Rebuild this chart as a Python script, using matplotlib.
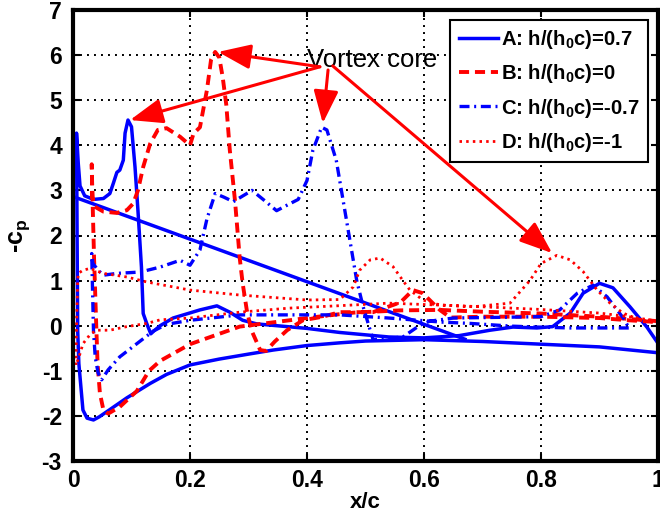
import numpy as np
import matplotlib
matplotlib.use("Agg")
import matplotlib.pyplot as plt

plt.rcParams['font.family'] = ['Liberation Sans', 'DejaVu Sans']
plt.rcParams['mathtext.fontset'] = 'custom'
plt.rcParams['mathtext.rm'] = 'Liberation Sans:bold'
plt.rcParams['mathtext.bf'] = 'Liberation Sans:bold'
plt.rcParams['mathtext.it'] = 'Liberation Sans:bold'
plt.rcParams['mathtext.default'] = 'bf'
plt.rcParams['axes.unicode_minus'] = False

# ---------------- data ----------------
labels = ['A: h/(h$_0$c)=0.7', 'B: h/(h$_0$c)=0', 'C: h/(h$_0$c)=-0.7', 'D: h/(h$_0$c)=-1']

# A: lower surface (TE -> LE), upper surface (LE -> TE), straight closing line
xA_low = [1.0, 0.9, 0.8, 0.7, 0.6, 0.5, 0.456, 0.4, 0.342, 0.3, 0.25, 0.2, 0.16, 0.132, 0.092,
          0.063, 0.045, 0.035, 0.024, 0.017, 0.014, 0.01, 0.008, 0.007, 0.006]
yA_low = [-0.6, -0.47, -0.41, -0.35, -0.31, -0.34, -0.38, -0.44, -0.54, -0.63, -0.74, -0.87, -1.08,
          -1.28, -1.6, -1.86, -2.02, -2.09, -2.05, -1.87, -1.43, -0.84, -0.1, 2.0, 4.27]
xA_up = [0.006, 0.009, 0.012, 0.02, 0.035, 0.052, 0.063, 0.069, 0.075, 0.08, 0.086, 0.089, 0.094,
         0.1, 0.106, 0.111, 0.117, 0.12, 0.126, 0.133, 0.138, 0.149, 0.171, 0.217, 0.246, 0.268,
         0.29, 0.314, 0.4, 0.456, 0.54, 0.6, 0.66, 0.713, 0.752, 0.793, 0.82, 0.85, 0.872, 0.9,
         0.923, 0.952, 0.981, 1.0]
yA_up = [4.27, 3.6, 3.1, 2.88, 2.8, 2.82, 2.93, 3.16, 3.4, 3.45, 3.67, 4.27, 4.56, 4.41, 3.52,
         2.56, 1.3, 0.27, 0.05, -0.18, -0.12, 0.0, 0.17, 0.35, 0.44, 0.3, 0.12, 0.04, -0.06,
         -0.15, -0.25, -0.27, -0.22, -0.1, -0.03, -0.05, -0.02, 0.28, 0.72, 0.94, 0.84, 0.42,
         -0.03, -0.39]
xA_diag = [0.003, 0.67]
yA_diag = [2.85, -0.3]

# B
xB_low = [1.0, 0.9, 0.8, 0.7, 0.627, 0.56, 0.48, 0.445, 0.4, 0.37, 0.285, 0.274, 0.2, 0.149,
          0.13, 0.109, 0.08, 0.06, 0.052, 0.046, 0.042, 0.04, 0.036, 0.033, 0.032]
yB_low = [0.1, 0.2, 0.27, 0.31, 0.35, 0.34, 0.29, 0.24, 0.17, 0.12, -0.02, -0.07, -0.41, -0.78,
          -1.0, -1.45, -1.8, -1.95, -1.87, -1.5, -0.84, -0.1, 1.5, 3.0, 3.58]
xB_up = [0.032, 0.033, 0.037, 0.052, 0.075, 0.092, 0.103, 0.111, 0.12, 0.132, 0.145, 0.16, 0.183,
         0.2, 0.206, 0.217, 0.229, 0.236, 0.243, 0.25, 0.256, 0.262, 0.268, 0.277, 0.285, 0.29,
         0.297, 0.305, 0.32, 0.33, 0.345, 0.366, 0.393, 0.427, 0.456, 0.513, 0.56, 0.581, 0.598,
         0.615, 0.627, 0.645, 0.7, 0.8, 0.9, 0.95, 1.0]
yB_up = [3.58, 2.85, 2.64, 2.53, 2.5, 2.56, 2.71, 3.0, 3.52, 4.04, 4.34, 4.38, 4.19, 4.0, 4.26,
         4.4, 5.23, 5.9, 6.07, 5.95, 5.5, 4.9, 3.9, 2.76, 1.5, 0.94, 0.35, -0.1, -0.54, -0.56,
         -0.35, -0.1, 0.12, 0.2, 0.3, 0.3, 0.52, 0.79, 0.72, 0.5, 0.35, 0.18, 0.2, 0.2, 0.17,
         0.12, 0.08]

# C
xC_low = [0.95, 0.9, 0.85, 0.793, 0.75, 0.68, 0.63, 0.54, 0.456, 0.4, 0.285, 0.2, 0.16, 0.137,
          0.109, 0.08, 0.06, 0.049, 0.043, 0.038, 0.035, 0.033, 0.032]
yC_low = [-0.05, -0.05, -0.05, -0.03, -0.01, 0.05, 0.08, 0.17, 0.24, 0.24, 0.24, 0.12, 0.03,
          -0.12, -0.4, -0.69, -0.98, -1.2, -1.05, -0.7, -0.1, 1.0, 1.6]
xC_up = [0.032, 0.034, 0.043, 0.052, 0.075, 0.115, 0.149, 0.183, 0.2, 0.217, 0.229, 0.243, 0.258,
         0.274, 0.306, 0.325, 0.348, 0.37, 0.385, 0.4, 0.41, 0.425, 0.434, 0.45, 0.468, 0.485,
         0.496, 0.508, 0.513, 0.564, 0.593, 0.61, 0.65, 0.7, 0.8, 0.832, 0.862, 0.889, 0.913,
         0.93, 0.943, 0.95]
yC_up = [1.6, 1.38, 1.23, 1.12, 1.16, 1.19, 1.3, 1.45, 1.34, 1.68, 2.37, 2.93, 2.85, 2.75, 3.0,
         2.8, 2.55, 2.7, 2.8, 3.22, 3.89, 4.4, 4.34, 3.67, 2.3, 1.0, 0.42, -0.1, -0.31, -0.25,
         0.01, 0.1, 0.17, 0.18, 0.2, 0.35, 0.72, 0.9, 0.64, 0.35, 0.13, -0.05]

# D
xD_low = [1.0, 0.95, 0.9, 0.8, 0.7, 0.6, 0.54, 0.45, 0.37, 0.285, 0.2, 0.149, 0.126, 0.092, 0.063,
          0.04, 0.029, 0.017, 0.012, 0.005, 0.006, 0.008, 0.009]
yD_low = [0.1, 0.2, 0.28, 0.36, 0.42, 0.47, 0.5, 0.44, 0.39, 0.3, 0.17, 0.13, 0.05, -0.02, -0.1,
          -0.1, -0.2, -0.4, -0.62, -0.88, 0.0, 1.0, 1.16]
xD_up = [0.009, 0.017, 0.029, 0.052, 0.092, 0.126, 0.2, 0.285, 0.4, 0.456, 0.479, 0.49, 0.508,
         0.525, 0.547, 0.564, 0.576, 0.598, 0.627, 0.684, 0.747, 0.781, 0.8, 0.827, 0.85, 0.872,
         0.896, 0.918, 0.94, 0.969, 1.0]
yD_up = [1.16, 1.23, 1.27, 1.16, 1.08, 0.97, 0.79, 0.68, 0.57, 0.58, 0.86, 1.23, 1.46, 1.5, 1.31,
         1.0, 0.79, 0.57, 0.46, 0.42, 0.5, 1.0, 1.38, 1.56, 1.46, 1.2, 0.79, 0.5, 0.28, 0.13, 0.06]

# annotation: "Vortex core" text and arrow (tail, head) points
note_text = 'Vortex core'
note_xy = (0.40, 5.74)
arrow_tails = [(0.422, 5.74), (0.422, 5.74), (0.436, 5.67), (0.444, 5.76)]
arrow_heads = [(0.248, 6.07), (0.0975, 4.56), (0.427, 4.49), (0.819, 1.61)]

xticks = [0, 0.2, 0.4, 0.6, 0.8, 1]
xticklabels = ['0', '0.2', '0.4', '0.6', '0.8', '1']
yticks = [-3, -2, -1, 0, 1, 2, 3, 4, 5, 6, 7]

# ---------------- figure ----------------
fig = plt.figure(figsize=(6.6, 5.12), dpi=100)
ax = fig.add_axes([73/660, 1-461/512, 585/660, 451/512])

blue = (0, 0, 1)
red = (1, 0, 0)
stA = dict(color=blue, lw=2.5, linestyle='-', solid_joinstyle='round')
stB = dict(color=red, lw=2.8, linestyle=(0, (2.6, 1.5)))
stC = dict(color=blue, lw=2.4, linestyle=(0, (3.0, 1.4, 0.6, 1.4)))
stD = dict(color=red, lw=2.0, linestyle=(0, (0.9, 1.5)))

lA, = ax.plot(xA_low + xA_up[1:], yA_low + yA_up[1:], **stA)
ax.plot(xA_diag, yA_diag, **stA)
lB, = ax.plot(xB_low + xB_up[1:], yB_low + yB_up[1:], **stB)
lC, = ax.plot(xC_low + xC_up[1:], yC_low + yC_up[1:], **stC)
lD, = ax.plot(xD_low + xD_up[1:], yD_low + yD_up[1:], **stD)

ax.set_xlim(0, 1)
ax.set_ylim(-3, 7)
ax.set_xticks(xticks)
ax.set_xticklabels(xticklabels)
ax.set_yticks(yticks)
ax.grid(True, color='black', linestyle=(0, (1, 2.6)), linewidth=1.4)
ax.tick_params(direction='in', length=5, width=1.5, top=True, right=True,
               labelsize=16.5)
ax.tick_params(axis='x', pad=6)
ax.tick_params(axis='y', pad=8)
for lab in ax.get_xticklabels() + ax.get_yticklabels():
    lab.set_fontweight('bold')
for sp in ax.spines.values():
    sp.set_linewidth(3)

ax.set_xlabel('x/c', fontsize=16, fontweight='bold', labelpad=0)
ax.set_ylabel('-c$_p$', fontsize=18, fontweight='bold', labelpad=7)

ax.text(note_xy[0], note_xy[1], note_text, fontsize=18.5, ha='left', va='baseline', zorder=6)
for t, h in zip(arrow_tails, arrow_heads):
    ax.annotate('', xy=h, xytext=t,
                arrowprops=dict(arrowstyle='-|>,head_length=1.0,head_width=0.38',
                                color=red, lw=2.2, mutation_scale=20,
                                shrinkA=0, shrinkB=0), zorder=7)

leg = ax.legend([lA, lB, lC, lD], labels, loc='upper right',
                prop={'weight': 'bold', 'size': 14.6},
                frameon=True, fancybox=False, handlelength=1.95, handletextpad=0.15,
                labelspacing=0.55, borderpad=0.4, borderaxespad=0.5)
leg.get_frame().set_edgecolor('black')
leg.get_frame().set_linewidth(1.5)
leg.get_frame().set_alpha(1)
leg.set_zorder(5)

fig.savefig('out.png', dpi=100)
